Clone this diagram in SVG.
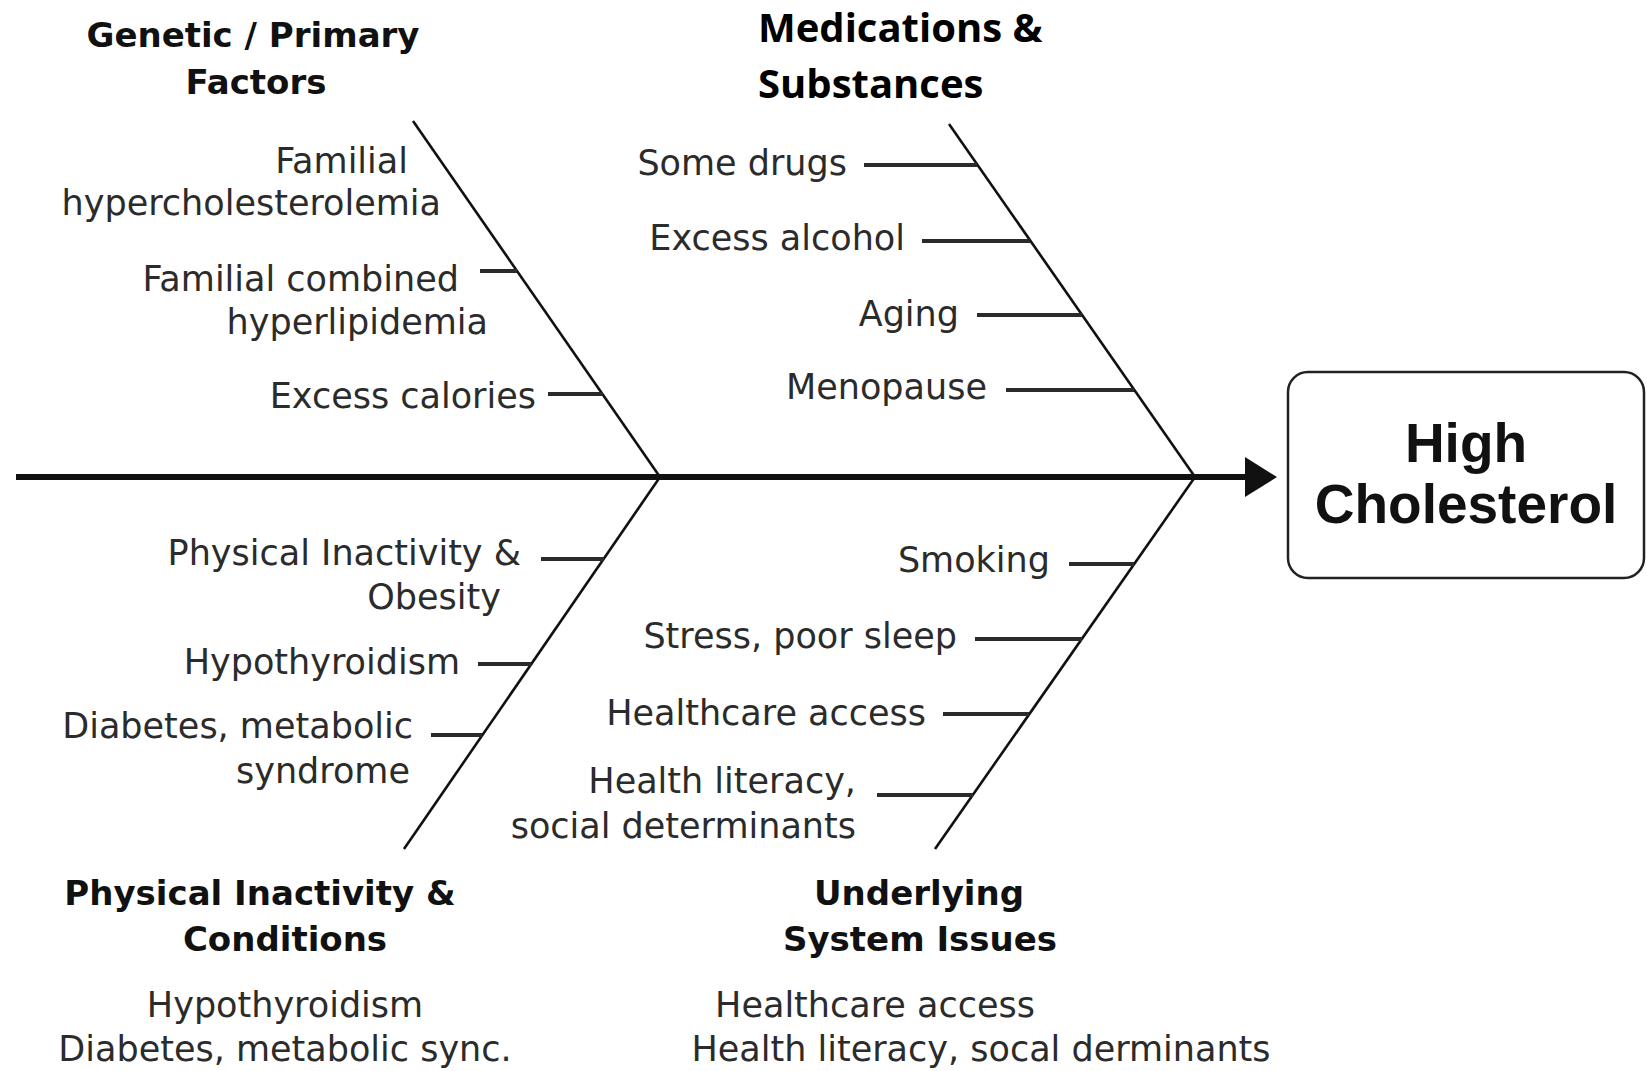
<svg xmlns="http://www.w3.org/2000/svg" width="1647" height="1071" viewBox="0 0 1647 1071">
<style>
.lbl{font-family:"DejaVu Sans",sans-serif;font-size:35px;fill:#2b2b2b;}
.hdr{font-family:"DejaVu Sans",sans-serif;font-size:34px;font-weight:bold;fill:#111;}
.med{font-family:"Open Sans",sans-serif;font-size:40px;font-weight:bold;fill:#000;}
.bone{stroke:#111;stroke-width:2.6;fill:none;}
.rib{stroke:#2b2b2b;stroke-width:3.8;fill:none;}
.spine{stroke:#111;stroke-width:6;fill:none;}
.e{text-anchor:end;}
.m{text-anchor:middle;}
</style>
<rect width="1647" height="1071" fill="#fff"/>
<g id="connectors">
<line class="spine" x1="16" y1="477" x2="1247" y2="477"/>
<path d="M1245,457 L1277,477 L1245,497 Z" fill="#111"/>
<line class="bone" x1="413" y1="121" x2="660" y2="477"/>
<line class="bone" x1="949" y1="124" x2="1195" y2="477"/>
<line class="bone" x1="660" y1="477" x2="404" y2="849"/>
<line class="bone" x1="1195" y1="477" x2="935" y2="849"/>
<line class="rib" x1="480" y1="271" x2="517" y2="271"/>
<line class="rib" x1="548" y1="394" x2="603" y2="394"/>
<line class="rib" x1="864" y1="165" x2="977" y2="165"/>
<line class="rib" x1="922" y1="241" x2="1030" y2="241"/>
<line class="rib" x1="977" y1="315" x2="1082" y2="315"/>
<line class="rib" x1="1006" y1="390" x2="1134" y2="390"/>
<line class="rib" x1="541" y1="559" x2="604" y2="559"/>
<line class="rib" x1="478" y1="664" x2="531" y2="664"/>
<line class="rib" x1="431" y1="735" x2="482" y2="735"/>
<line class="rib" x1="1069" y1="564" x2="1134" y2="564"/>
<line class="rib" x1="975" y1="639" x2="1082" y2="639"/>
<line class="rib" x1="943" y1="714" x2="1029" y2="714"/>
<line class="rib" x1="877" y1="795" x2="973" y2="795"/>
</g>
<g id="effect">
<rect x="1288" y="372" width="356" height="206" rx="20" ry="20" fill="#fff" stroke="#222" stroke-width="2.5"/>
<text x="1466" y="462" text-anchor="middle" style="font-family:'Liberation Sans',sans-serif;font-size:55px;font-weight:bold;fill:#111">High</text>
<text x="1466" y="523" text-anchor="middle" style="font-family:'Liberation Sans',sans-serif;font-size:55px;font-weight:bold;fill:#111">Cholesterol</text>
</g>
<g id="genetic">
<text class="hdr m" x="253" y="47">Genetic / Primary</text>
<text class="hdr m" x="256" y="94">Factors</text>
<text class="lbl e" x="408" y="173">Familial</text>
<text class="lbl e" x="441" y="215">hypercholesterolemia</text>
<text class="lbl e" x="459" y="291">Familial combined</text>
<text class="lbl e" x="488" y="334">hyperlipidemia</text>
<text class="lbl e" x="536" y="408">Excess calories</text>
</g>
<g id="medications">
<text class="med" x="758" y="42">Medications &amp;</text>
<text class="med" x="758" y="98">Substances</text>
<text class="lbl e" x="847" y="175">Some drugs</text>
<text class="lbl e" x="905" y="250">Excess alcohol</text>
<text class="lbl e" x="959" y="326">Aging</text>
<text class="lbl e" x="987" y="399">Menopause</text>
</g>
<g id="physical">
<text class="lbl e" x="521" y="565">Physical Inactivity &amp;</text>
<text class="lbl e" x="501" y="609">Obesity</text>
<text class="lbl e" x="460" y="674">Hypothyroidism</text>
<text class="lbl e" x="413" y="738">Diabetes, metabolic</text>
<text class="lbl e" x="410" y="783">syndrome</text>
<text class="hdr m" x="260" y="905">Physical Inactivity &amp;</text>
<text class="hdr m" x="285" y="951">Conditions</text>
<text class="lbl m" x="285" y="1017">Hypothyroidism</text>
<text class="lbl m" x="285" y="1061">Diabetes, metabolic sync.</text>
</g>
<g id="system">
<text class="lbl e" x="1050" y="572">Smoking</text>
<text class="lbl e" x="957" y="648">Stress, poor sleep</text>
<text class="lbl e" x="926" y="725">Healthcare access</text>
<text class="lbl e" x="856" y="793">Health literacy,</text>
<text class="lbl e" x="856" y="838">social determinants</text>
<text class="hdr m" x="919" y="905">Underlying</text>
<text class="hdr m" x="920" y="951">System Issues</text>
<text class="lbl m" x="875" y="1017">Healthcare access</text>
<text class="lbl m" x="981" y="1061">Health literacy, socal derminants</text>
</g>
</svg>
